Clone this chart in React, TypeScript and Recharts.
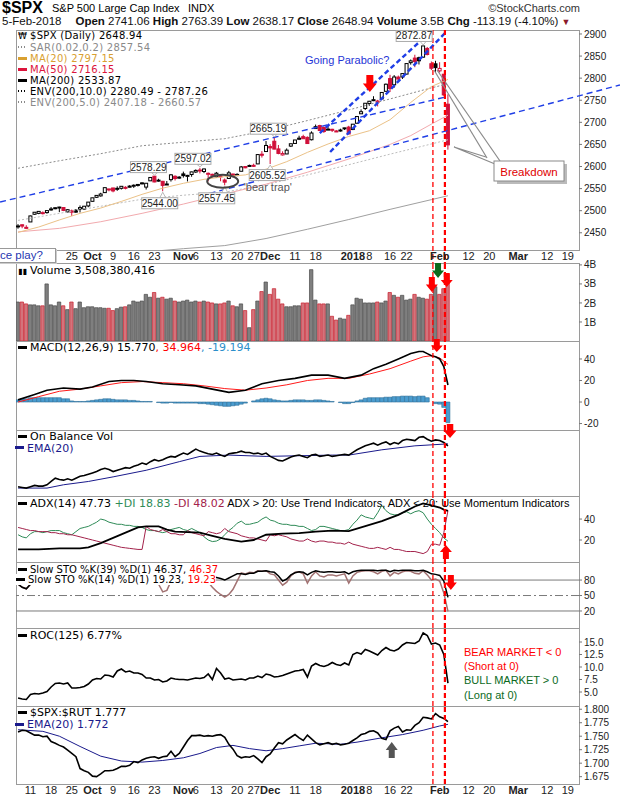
import React from "react";
import { ComposedChart, Bar, Line, XAxis, YAxis, ReferenceLine, ReferenceDot, Cell } from "recharts";

// trading days 6-Sep-2017 .. 5-Feb-2018 (index 0..104)
const open = [2463.8,2468.1,2462.3,2474.5,2491.9,2493.9,2494.6,2495.7,2502.5,2506.3,2506.8,2507.2,2497.3,2499.4,2501.0,2503.3,2503.4,2510.8,
  2521.2,2530.3,2533.5,2540.9,2547.4,2551.4,2550.0,2550.6,2552.9,2555.7,2555.6,2557.2,2562.9,2553.4,2567.6,2578.1,2568.7,2566.5,2560.1,2570.3,2577.8,2576.0,
  2583.2,2579.5,2581.9,2587.5,2592.1,2588.7,2584.0,2580.2,2576.5,2577.8,2569.4,2572.9,2582.9,2579.5,2589.2,2600.0,2600.4,2602.7,2605.9,2627.8,2633.9,
  2645.1,2657.2,2639.8,2626.2,2628.4,2646.2,2652.2,2661.7,2667.6,2665.9,2660.6,2685.9,2692.7,2688.2,2683.0,2684.2,2679.1,2682.1,2686.1,2689.2,
  2683.7,2697.9,2719.3,2731.3,2742.7,2751.2,2745.6,2753.0,2770.2,2799.0,2785.0,2802.4,2802.6,2809.2,2835.1,2845.4,2846.2,2847.5,2867.2,2832.7,2832.4,
  2816.5,2808.9,2741.06];
const high = [2469.6,2468.6,2467.1,2488.9,2496.8,2498.4,2498.4,2500.2,2508.3,2507.8,2508.9,2507.2,2503.5,2502.5,2503.5,2511.8,2510.8,2519.4,
  2529.2,2535.1,2540.5,2552.5,2549.4,2551.8,2555.2,2555.2,2555.3,2557.6,2559.5,2559.7,2564.1,2562.4,2575.4,2578.29,2572.2,2567.4,2567.1,2582.98,2580.0,2578.0,
  2588.4,2581.1,2588.4,2593.4,2597.02,2595.5,2586.5,2583.8,2587.7,2579.7,2572.8,2590.1,2584.0,2584.6,2601.2,2600.9,2604.2,2606.4,2627.7,2634.9,2657.7,
  2650.6,2665.19,2648.7,2634.4,2641.0,2651.7,2660.3,2669.7,2671.9,2668.1,2679.6,2694.97,2694.4,2691.0,2692.6,2685.4,2682.7,2685.6,2687.7,2692.1,
  2695.9,2714.4,2729.3,2743.5,2748.5,2759.1,2750.8,2767.6,2787.9,2807.5,2807.0,2805.8,2810.3,2833.0,2842.2,2852.97,2848.6,2872.87,2870.6,2837.8,2839.3,
  2836.0,2808.9,2763.39];
const low = [2459.2,2460.3,2459.4,2474.5,2490.4,2492.1,2491.4,2493.2,2499.9,2503.2,2496.7,2499.0,2496.1,2488.0,2495.1,2495.9,2502.9,2507.8,
  2520.4,2528.9,2531.8,2540.0,2543.8,2541.6,2544.9,2547.9,2548.3,2552.6,2551.6,2554.7,2559.7,2547.9,2567.6,2564.3,2565.6,2544.0,2559.4,2565.9,2568.3,2572.2,
  2574.9,2566.2,2576.8,2585.7,2584.4,2585.0,2566.3,2575.6,2574.5,2566.6,2557.45,2572.9,2577.6,2578.2,2589.2,2596.1,2600.4,2598.9,2605.4,2620.3,2633.9,
  2605.52,2639.0,2627.7,2624.8,2628.1,2644.1,2651.5,2659.8,2662.9,2652.0,2659.1,2685.9,2680.7,2676.1,2682.4,2678.1,2678.0,2678.9,2682.7,2673.6,
  2682.4,2697.8,2719.1,2727.9,2737.6,2747.9,2736.1,2752.8,2769.6,2768.6,2778.4,2792.6,2798.1,2808.1,2830.6,2824.8,2830.9,2846.2,2851.5,2818.3,2813.0,
  2812.7,2760.0,2638.17];
const close = [2465.5,2465.1,2461.4,2488.1,2496.5,2498.4,2495.6,2500.2,2503.9,2506.7,2508.2,2500.6,2502.2,2496.7,2496.8,2507.0,2510.1,2519.4,
  2529.1,2534.6,2537.7,2552.1,2549.3,2544.7,2550.6,2555.2,2550.9,2553.2,2557.6,2559.4,2561.3,2562.1,2575.2,2565.0,2569.1,2557.2,2560.4,2581.1,2572.8,2575.3,
  2579.4,2579.9,2587.8,2591.1,2590.6,2594.4,2584.6,2582.3,2584.8,2578.9,2564.6,2585.6,2578.9,2582.1,2599.0,2597.1,2602.4,2601.4,2627.0,2626.1,2647.6,
  2642.2,2639.4,2629.6,2629.3,2637.0,2651.5,2660.0,2664.1,2662.9,2652.0,2675.8,2690.2,2681.5,2679.2,2684.6,2683.3,2680.5,2682.6,2687.5,2673.6,
  2695.8,2713.1,2724.0,2743.2,2747.7,2751.3,2748.2,2767.6,2786.2,2776.4,2802.6,2798.0,2810.3,2833.0,2839.1,2837.5,2839.3,2872.9,2853.5,2822.4,2823.8,
  2822.0,2762.1,2648.94];
// volume, billions
const volume = [2.05,2.05,1.95,1.9,1.9,1.85,1.85,3.0,1.9,1.85,2.05,1.85,1.65,2.05,1.7,2.05,1.75,1.8,
  1.8,1.75,1.75,1.72,1.72,1.6,1.7,1.78,1.8,1.9,2.1,2.05,2.1,2.45,2.3,2.55,2.25,2.3,2.2,2.25,2.1,2.05,
  2.1,2.15,2.05,2.1,2.05,2.1,2.05,2.0,1.95,1.95,2.0,2.1,1.85,1.8,1.95,1.6,0.7,1.65,2.1,2.6,3.1,
  2.45,2.75,2.2,1.95,1.8,1.8,1.85,1.85,2.0,2.0,3.75,2.15,1.95,1.95,1.95,1.3,1.1,1.2,1.15,1.35,
  1.9,2.25,2.2,2.0,2.0,2.0,2.05,2.0,2.1,2.55,2.4,2.3,2.4,2.15,2.2,2.45,2.3,2.25,2.2,2.45,2.85,
  2.45,2.75,3.51];

// smooth overlays, [day index, value]
const ma20 = [[0,2451],[5,2463],[10,2479],[15,2494],[20,2506],[25,2521],[30,2537],[35,2551],[40,2562],[45,2571],[50,2577],[55,2581],[60,2594],[65,2611],[70,2632],[75,2651],[80,2668],[85,2681],[90,2706],[95,2745],[100,2781],[104,2797.15]];
const ma50 = [[0,2452],[10,2460],[20,2475],[30,2494],[40,2515],[50,2538],[60,2560],[70,2587],[80,2617],[90,2650],[95,2670],[100,2696],[104,2716.15]];
const ma200 = [[0,2360],[10,2375],[20,2390],[30,2406],[40,2414],[50,2421],[60,2437],[70,2458],[80,2480],[90,2503],[100,2525],[104,2533.87]];
const env10Up = [[0,2596],[10,2613],[20,2629],[30,2647],[40,2655],[50,2663],[60,2681],[70,2704],[80,2728],[90,2753],[100,2778],[104,2787.26]];
const env5Up = [[0,2478],[10,2494],[20,2510],[30,2526],[40,2535],[50,2542],[60,2559],[70,2581],[80,2604],[90,2628],[100,2651],[104,2660.57]];

const macd = [[0,2],[4,7],[7,11],[11,13],[15,12],[18,14],[22,19],[25,20],[28,20],[31,19],[35,17],[39,16],[43,15],[47,12],[51,9],[55,11],[59,17],[63,20],[67,22],[71,25],[75,25],[79,22],[83,25],[86,31],[89,35],[92,40],[95,45],[97,47],[98,47],[99,45],[100,43],[101,42],[102,40],[103,33],[104,15.77]];
const macdSignal = [[0,0],[5,5],[10,10],[15,12],[20,15],[25,18],[30,19],[35,18],[40,17],[45,15],[50,12.5],[55,11],[60,13],[65,16],[70,20],[75,22],[80,22],[85,26],[90,31],[95,38],[98,42],[100,43],[102,41],[104,34.96]];
const macdHist = [2,3,3,4,4,4,4,4,4,4, 4,3,3,1,0.5,0.5,0.5,1,1.5,2, 2.5,3,3,2.5,2,2,2,1.5,1.5,1, 0.5,0.5,0.5,0,-0.5,-1,-1,-0.5,-1,-1,
  -1,-1,-1,-1,-1.5,-1.5,-2,-2.5,-3,-3.5, -4,-4,-3.5,-3,-2,-1,0,1,2,3, 3.5,3,2,1.5,1,1,1.5,2,2,2, 1.5,1.5,2,2,1.5,1,0.5,0,-0.5,-1.5,
  -1.5,-0.5,1,2,3.5,4,4,4,4,4.5, 4.5,5,5,5.5,5.5,5.5,5,5.5,5.5,4, 0,-1.5,-2,-5,-19.19];

// on balance volume (relative units)
const obv = [14,13,12,14,16,15,15,17,22,27, 25,24,26,24,27,30,31,33,35,37, 40,42,40,37,39,41,43,42,45,47, 50,48,52,55,53,55,58,60,59,62,
  65,63,67,71,68,66,64,63,65,62, 60,64,65,66,68,66,66,64,65,63, 65,60,57,54,53,56,59,61,62,60, 58,62,63,60,61,62,60,61,62,63,
  62,66,70,73,76,78,80,77,80,82, 78,81,79,84,86,85,84,89,90,86, 83,85,84,81,76];
const obvEma = [[0,12],[7,12],[11,17],[17,22],[23,29],[31,39],[39,52],[44,60],[51,62],[60,60],[68,61],[76,62],[80,62],[88,70],[96,76],[104,79]];

const adx = [[0,11],[5,11],[10,12],[15,12],[17,13],[20,17],[23,22],[26,27],[29,32],[31,33],[34,33],[36,30],[38,28],[44,27],[47,24],[50,21],[54,18.5],[57,20],[60,25],[64,26],[68,26.5],[72,28],[76,29],[80,28.5],[83,32],[88,38],[92,44],[96,52],[98,55],[100,53],[102,51],[103,49],[104,47.73]];
const plusDI = [25,23,22,26,28,28,27,28,29,29, 29,27,26,25,28,31,32,33,35,37, 40,39,37,36,35,35,34,34,33,33, 32,30,29,29,28,27,28,30,31,32,
  30,29,31,29,27,23,20,18.5,19,21, 25,29,32,36,38,35,35,36,37,40, 42,39,38,36,35,35,34,34,33,33, 31,29,30,33,33,32,31,30,29,29,
  30,35,39,44,42,41,40,46,53,48, 45,44,44,46,47,45,47,48,46,40, 35,31,27,22,18.83];
const minusDI = [32,31,30,29,29,28,28,28,27,27, 26,26,25,25,24,23,22,21,20,19, 18,17,16,15,14,13,12.5,12,11.5,11, 11,33,30,29,28,30,28,26,26,25,
  25,29,27,26,25,24,28,27,26,27, 31,28,27,26,24,23,22,22,21,20, 19,25,24,25,24,23,21,20,19,19, 21,19,18,19,19,18,18,17,17,16,
  18,16,15,14,13,12,12,13,12,11, 13,11,11,10,9,9,9,8,7,9, 16,16,15,27,48.02];

const stoK39 = [72,66,63,72,82,86,86,89,91,92, 93,88,89,85,85,90,92,96,97,98, 98,99,98,96,97,98,97,97,98,98, 98,97,99,95,94,86,87,95,93,94,
  95,94,96,97,96,97,90,87,85,83, 80,84,88,92,92,91,93,93,97,97, 98,96,95,88,78,82,90,94,96,95, 90,95,98,96,95,96,96,95,95,96,
  92,96,98,99,99,99,99,98,99,99, 96,99,98,99,99,99,98,98,99,96, 92,91,89,78,46.37];
const stoK14 = [72,66,63,72,90,92,88,92,94,95, 94,82,84,76,78,88,92,97,98,98, 98,99,96,90,93,96,92,94,96,96, 96,92,98,78,72,57,60,78,82,84,
  88,86,92,94,90,88,76,66,58,52, 47,52,62,78,94,92,95,94,98,97, 98,92,90,80,70,76,88,95,96,92, 74,88,96,88,86,90,90,88,90,92,
  74,88,95,97,98,98,96,92,97,99, 88,95,92,96,98,97,93,92,98,90, 80,82,78,55,19.23];

const roc125 = [3.8,3.6,3.5,4.5,4.7,4.6,4.8,5.1,6.0,6.7, 6.8,6.6,6.8,5.8,5.8,5.9,6.1,6.6,7.4,7.7, 7.6,8.4,8.3,8.0,9.2,9.6,9.0,9.2,8.8,8.8,
  8.5,7.8,7.8,7.4,7.5,7.0,7.2,7.8,7.6,7.5, 7.5,7.4,7.6,7.8,7.7,7.9,8.6,7.5,9.7,8.8, 7.6,7.8,7.4,7.5,7.6,7.4,7.8,7.8,8.2,7.9,
  8.6,8.4,8.0,8.1,8.3,8.6,8.9,9.2,9.3,9.5, 8.0,10.2,10.7,10.3,10.1,10.4,10.9,10.5,10.3,10.8, 10.4,12.5,12.9,12.6,13.5,13.2,12.8,12.4,13.3,13.9,
  13.4,13.2,13.6,14.4,14.9,14.8,14.7,15.2,16.8,16.3, 14.6,14.8,14.4,12.5,6.77];

const spxRut = [1.758,1.761,1.760,1.756,1.752,1.752,1.749,1.750,1.740,1.737, 1.733,1.730,1.724,1.718,1.712,1.690,1.686,1.683,1.676,1.675,
  1.680,1.686,1.686,1.687,1.690,1.694,1.694,1.696,1.703,1.701, 1.706,1.709,1.711,1.712,1.709,1.712,1.713,1.722,1.712,1.718,
  1.730,1.742,1.751,1.751,1.752,1.750,1.751,1.750,1.752,1.753, 1.748,1.735,1.726,1.714,1.710,1.712,1.711,1.714,1.708,1.701,
  1.712,1.717,1.728,1.738,1.736,1.743,1.748,1.753,1.747,1.742, 1.752,1.745,1.738,1.734,1.736,1.738,1.735,1.737,1.734,1.735,
  1.737,1.742,1.747,1.753,1.755,1.759,1.760,1.756,1.746,1.744, 1.760,1.765,1.768,1.758,1.762,1.761,1.770,1.775,1.785,1.784,
  1.782,1.792,1.786,1.783,1.777];
const spxRutEma = [[0,1.762],[6,1.759],[10,1.750],[15,1.731],[20,1.713],[25,1.704],[30,1.702],[35,1.705],[40,1.710],[44,1.718],[48,1.729],[52,1.733],[56,1.727],[60,1.723],[64,1.727],[68,1.732],[72,1.737],[78,1.735],[82,1.739],[88,1.747],[93,1.753],[98,1.761],[102,1.769],[104,1.772]];

// date axis (index of trading day, incl. future days)
const tickIdx = [3,8,13,18,23,28,33,40,43,48,53,57,61,67,72,81,85,90,94,102,109,114,121,128,133];
const tickText = ["11","18","25","Oct","9","16","23","Nov","6","13","20","27","Dec","11","18","2018","8","16","22","Feb","12","20","Mar","12","19"];
const boldTicks = ["Oct","Nov","Dec","2018","Feb","Mar"];
const mainTickIdx = tickIdx.slice(2); // first two hidden under the note box

const rows: any[] = close.map((c, i) => ({
  i, o: open[i], h: high[i], l: low[i], c, hl: [low[i], high[i]], pc: i > 0 ? close[i - 1] : c,
  vol: volume[i], hist: macdHist[i], obv: obv[i], pdi: plusDI[i], mdi: minusDI[i],
  k39: stoK39[i], k14: stoK14[i], roc: roc125[i], ratio: spxRut[i],
}));
const put = (key: string, pts: number[][]) => pts.forEach(([i, v]) => { rows[i][key] = v; });
put("ma20", ma20); put("ma50", ma50); put("ma200", ma200); put("env10", env10Up); put("env5", env5Up);
put("macd", macd); put("sig", macdSignal); put("obvEma", obvEma); put("adx", adx); put("ratioEma", spxRutEma);

const FL = '"DejaVu Sans", Verdana, sans-serif';
const FA = '"Liberation Sans", Arial, sans-serif';
const RED = "#D0103A";
const XD: [number, number] = [-0.5, 135.7];
const RL = [{ x: 100.36, w: 1.3 }, { x: 103.26, w: 2.2 }];
const PAD = 6;

const DateTick = (p: any) => {
  const t = tickText[tickIdx.indexOf(p.payload.value)];
  return (
    <text x={p.x} y={p.y} dy={10} textAnchor="middle" fontSize={11} fontFamily={FA}
      fontWeight={boldTicks.includes(t) ? 700 : 400} fill="#222">{t}</text>
  );
};

const xAxis = (show: boolean, ticks = tickIdx) => (
  <XAxis dataKey="i" type="number" domain={XD} allowDataOverflow ticks={ticks} interval={0}
    hide={!show} height={show ? 14 : 0} axisLine={false} tickLine={false} tickSize={0} tickMargin={0} tick={<DateTick />} />
);

const yAxis = (domain: [number, number], ticks: number[], fmt?: (v: number) => string) => (
  <YAxis orientation="right" width={41} domain={domain} allowDataOverflow ticks={ticks} interval={0}
    axisLine={false} tickSize={3} tickLine={{ stroke: "#777" }} tickFormatter={fmt}
    tick={{ fontSize: 10, fill: "#222", fontFamily: FA }} />
);

const redLines = () => RL.map((r, k) => (
  <ReferenceLine key={"rl" + k} x={r.x} stroke="#ff0000" strokeWidth={r.w} strokeDasharray="5 3" ifOverflow="visible" />
));

const Candle = (p: any) => {
  const { x, y, width, height, payload } = p;
  if (!payload) return null;
  const top = Math.min(y, y + height);
  const hh = Math.abs(height);
  const k = payload.h - payload.l ? hh / (payload.h - payload.l) : 0;
  const yo = top + (payload.h - payload.o) * k;
  const yc = top + (payload.h - payload.c) * k;
  const col = payload.c < payload.pc ? RED : "#000";
  const cx = x + width / 2;
  const up = payload.c >= payload.o;
  return (
    <g>
      <line x1={cx} x2={cx} y1={top} y2={top + hh} stroke={col} strokeWidth={1} />
      <rect x={x + 0.5} y={Math.min(yo, yc)} width={width - 1} height={Math.max(1, Math.abs(yo - yc))}
        fill={up ? "#fff" : col} stroke={col} strokeWidth={1} />
    </g>
  );
};

// block arrow, (cx, cy) is the tip
const Arrow = ({ cx, cy, dir = "down", color = "#f00", w = 13, h = 16 }: any) => {
  if (cx == null) return null;
  const s = dir === "down" ? -1 : 1; // body goes up (negative y) for a down arrow
  const hw = w / 2, sw = w / 4, hh = h * 0.5;
  const pts = [[cx, cy], [cx - hw, cy - s * -hh], [cx - sw, cy - s * -hh], [cx - sw, cy - s * -h], [cx + sw, cy - s * -h], [cx + sw, cy - s * -hh], [cx + hw, cy - s * -hh]];
  return <polygon points={pts.map((q) => q.join(",")).join(" ")} fill={color} />;
};

const PriceTag = ({ cx, cy, text, dx, dy }: any) => {
  if (cx == null) return null;
  const bx = cx + dx, by = cy + dy, w = 36, hgt = 11;
  const edge = dy < 0 ? by + hgt / 2 : by - hgt / 2;
  return (
    <g>
      <polygon points={`${cx - 3},${edge} ${cx},${cy + (dy < 0 ? -1 : 1)} ${cx + 3},${edge}`} fill="#fff" stroke="#aaa" strokeWidth={0.8} />
      <rect x={bx - w / 2} y={by - hgt / 2} width={w} height={hgt} fill="#fff" stroke="#aaa" strokeWidth={1} />
      <text x={bx} y={by + 3.5} textAnchor="middle" fontSize={10} fontFamily={FA} fill="#222">{text}</text>
    </g>
  );
};

const tags = [
  { i: 33, p: 2578.29, t: "2578.29", dx: -6, dy: -9 },
  { i: 35, p: 2544.0, t: "2544.00", dx: -3, dy: 12 },
  { i: 44, p: 2597.02, t: "2597.02", dx: -7, dy: -9 },
  { i: 50, p: 2557.45, t: "2557.45", dx: -8, dy: 13 },
  { i: 61, p: 2605.52, t: "2605.52", dx: -3, dy: 11 },
  { i: 62, p: 2665.19, t: "2665.19", dx: -6, dy: -9 },
  { i: 98, p: 2872.87, t: "2872.87", dx: -9, dy: -10 },
];

const blueLines = [
  { a: [-4.35, 2519.7], b: [103.3, 2757], w: 1.4, d: "6 4" },
  { a: [44.0, 2533.2], b: [145.6, 2784.5], w: 1.4, d: "6 4" },
  { a: [73.0, 2675.8], b: [98.4, 2893.2], w: 2.4, d: "5 3" },
  { a: [75.5, 2632.8], b: [103.3, 2902.2], w: 2.4, d: "5 3" },
];

const Dash = ({ c }: any) => <span style={{ display: "inline-block", width: 9, height: 3, background: c, verticalAlign: "middle", marginRight: 3, marginTop: -2 }} />;
const Dots = ({ c }: any) => <span style={{ display: "inline-block", width: 9, height: 2, marginRight: 3, verticalAlign: "middle", marginTop: -2, backgroundImage: `linear-gradient(90deg, ${c} 50%, transparent 50%)`, backgroundSize: "3px 2px" }} />;

const box = (top: number, h: number) => (
  <div key={"bx" + top} style={{ position: "absolute", left: 16, top, width: 564, height: h + 1, border: "1px solid #9a9a9a", boxSizing: "border-box" }} />
);

// plot area starts at `top`, is `h` tall; `axisH` px of date labels below it
const panel = (top: number, h: number, axisH: number, children: React.ReactNode) => (
  <div style={{ position: "absolute", left: 0, top: top - PAD }}>
    <ComposedChart width={620} height={h + axisH + PAD * 2} data={rows} margin={{ top: PAD, right: 0, bottom: PAD, left: 16 }}>
      {children}
    </ComposedChart>
  </div>
);

const T = (p: any) => <span style={{ position: "absolute", whiteSpace: "nowrap", ...p.s }}>{p.children}</span>;

export default function App() {
  return (
    <div style={{ position: "absolute", left: 0, top: 0, width: 620, height: 800, background: "#fff", overflow: "hidden" }}>
      {[box(30, 220), box(263, 78), box(341, 89), box(430, 66), box(496, 66), box(562, 66), box(628, 78), box(706, 78)]}

      {panel(30, 220, 14, <>
        {xAxis(true, mainTickIdx)}
        {yAxis([2411, 2909], [2450, 2500, 2550, 2600, 2650, 2700, 2750, 2800, 2850, 2900])}
        <Line dataKey="env10" stroke="#8c8c8c" strokeDasharray="2 2" strokeWidth={1} dot={false} activeDot={false} connectNulls isAnimationActive={false} />
        <Line dataKey="env5" stroke="#bdbdbd" strokeDasharray="2 2" strokeWidth={1} dot={false} activeDot={false} connectNulls isAnimationActive={false} />
        <Line dataKey="ma200" stroke="#a0a0a0" strokeWidth={1} dot={false} activeDot={false} connectNulls isAnimationActive={false} />
        <Line dataKey="ma50" stroke="#F2AAAE" strokeWidth={1} dot={false} activeDot={false} connectNulls isAnimationActive={false} />
        <Line dataKey="ma20" stroke="#EBC288" strokeWidth={1} dot={false} activeDot={false} connectNulls isAnimationActive={false} />
        <Bar dataKey="hl" barSize={4} shape={(p: any) => <Candle {...p} />} isAnimationActive={false} />
        {blueLines.map((l, k) => (
          <ReferenceLine key={"bl" + k} segment={[{ x: l.a[0], y: l.a[1] }, { x: l.b[0], y: l.b[1] }]} stroke="#1f3ee6" strokeWidth={l.w} strokeDasharray={l.d} ifOverflow="visible" />
        ))}
        {RL.map((r, k) => (
          <ReferenceLine key={"mr" + k} segment={[{ x: r.x, y: 2909 }, { x: r.x, y: 2380 }]} stroke="#ff0000" strokeWidth={r.w} strokeDasharray="5 3" ifOverflow="visible" />
        ))}
        {tags.map((g, k) => (
          <ReferenceDot key={"tg" + k} x={g.i} y={g.p} ifOverflow="visible" shape={(p: any) => <PriceTag {...p} text={g.t} dx={g.dx} dy={g.dy} />} />
        ))}
        <ReferenceDot x={49.5} y={2566.5} ifOverflow="visible" shape={(p: any) => p.cx == null ? null : (
          <g>
            <ellipse cx={p.cx} cy={p.cy} rx={15.5} ry={6.5} fill="none" stroke="#444" strokeWidth={2} />
            <text x={p.cx + 21} y={p.cy + 10} fontSize={11} fontFamily={FA} fill="#555">'bear trap'</text>
          </g>
        )} />
        <ReferenceDot x={85.1} y={2768.7} ifOverflow="visible" shape={(p: any) => <Arrow {...p} dir="down" w={14} h={17} color="#f00" />} />
      </>)}

      {panel(263, 78, 0, <>
        {xAxis(false)}
        {yAxis([0, 4.1], [1, 2, 3, 4], (v) => v + "B")}
        <Bar dataKey="vol" barSize={3.4} isAnimationActive={false}>
          {rows.map((r, k) => (
            <Cell key={k} fill={r.c < r.pc ? "#D4737B" : "#7f7f7f"} stroke={r.c < r.pc ? "#C8202E" : "#4a4a4a"} strokeWidth={0.7} />
          ))}
        </Bar>
        {redLines()}
        <ReferenceDot x={100.1} y={2.58} ifOverflow="visible" shape={(p: any) => <Arrow {...p} dir="down" w={12} h={15} color="#f00" />} />
        <ReferenceDot x={101.6} y={3.31} ifOverflow="visible" shape={(p: any) => <Arrow {...p} dir="down" w={12} h={15} color="#0b6a1d" />} />
        <ReferenceDot x={103.7} y={2.84} ifOverflow="visible" shape={(p: any) => <Arrow {...p} dir="down" w={12} h={14} color="#f00" />} />
      </>)}

      {panel(341, 89, 0, <>
        {xAxis(false)}
        {yAxis([-26, 56.7], [-20, 0, 20, 40])}
        <Bar dataKey="hist" barSize={4} fill="#4A9CCF" stroke="#2D6E98" strokeWidth={0.6} isAnimationActive={false} />
        <Line dataKey="sig" stroke="#ff1a1a" strokeWidth={1} dot={false} activeDot={false} connectNulls isAnimationActive={false} />
        <Line dataKey="macd" stroke="#000" strokeWidth={1.6} dot={false} activeDot={false} connectNulls isAnimationActive={false} />
        {redLines()}
        <ReferenceDot x={101.3} y={46.5} ifOverflow="visible" shape={(p: any) => <Arrow {...p} dir="down" w={12} h={13} color="#f00" />} />
      </>)}

      {panel(430, 66, 0, <>
        {xAxis(false)}
        {yAxis([0, 100], [])}
        <Line dataKey="obvEma" stroke="#1a1a8c" strokeWidth={1} dot={false} activeDot={false} connectNulls isAnimationActive={false} />
        <Line dataKey="obv" stroke="#000" strokeWidth={1.6} dot={false} activeDot={false} isAnimationActive={false} />
        {redLines()}
        <ReferenceDot x={104.5} y={87.9} ifOverflow="visible" shape={(p: any) => <Arrow {...p} dir="down" w={13} h={15} color="#f00" />} />
      </>)}

      {panel(496, 66, 0, <>
        {xAxis(false)}
        {yAxis([-1, 62], [20, 40])}
        <Line dataKey="pdi" stroke="#2E8B57" strokeWidth={1} dot={false} activeDot={false} isAnimationActive={false} />
        <Line dataKey="mdi" stroke="#A3224B" strokeWidth={1} dot={false} activeDot={false} isAnimationActive={false} />
        <Line dataKey="adx" stroke="#000" strokeWidth={1.8} dot={false} activeDot={false} connectNulls isAnimationActive={false} />
        {redLines()}
        <ReferenceDot x={103.5} y={15.2} ifOverflow="visible" shape={(p: any) => <Arrow {...p} dir="up" w={12} h={14} color="#f00" />} />
      </>)}

      {panel(562, 66, 0, <>
        {xAxis(false)}
        {yAxis([-13, 115], [20, 50, 80])}
        <ReferenceLine y={80} stroke="#7a7a7a" strokeWidth={1} />
        <ReferenceLine y={50} stroke="#7a7a7a" strokeWidth={1} strokeDasharray="8 3 2 3" />
        <ReferenceLine y={20} stroke="#7a7a7a" strokeWidth={1} />
        <Line dataKey="k14" stroke="#A27272" strokeWidth={1.5} dot={false} activeDot={false} isAnimationActive={false} />
        <Line dataKey="k39" stroke="#000" strokeWidth={1.5} dot={false} activeDot={false} isAnimationActive={false} />
        {redLines()}
        <ReferenceDot x={104.7} y={60.7} ifOverflow="visible" shape={(p: any) => <Arrow {...p} dir="down" w={12} h={15} color="#f00" />} />
      </>)}

      {panel(628, 78, 0, <>
        {xAxis(false)}
        {yAxis([2.2, 17.8], [5, 7.5, 10, 12.5, 15], (v) => v.toFixed(1))}
        <Line dataKey="roc" stroke="#000" strokeWidth={1.6} dot={false} activeDot={false} isAnimationActive={false} />
        {redLines()}
      </>)}

      {panel(706, 78, 14, <>
        {xAxis(true)}
        {yAxis([1.6614, 1.806], [1.675, 1.7, 1.725, 1.75, 1.775, 1.8], (v) => v.toFixed(3))}
        <Line dataKey="ratioEma" stroke="#1a1a8c" strokeWidth={1} dot={false} activeDot={false} connectNulls isAnimationActive={false} />
        <Line dataKey="ratio" stroke="#000" strokeWidth={1.6} dot={false} activeDot={false} isAnimationActive={false} />
        {redLines()}
        <ReferenceDot x={90.4} y={1.7392} ifOverflow="visible" shape={(p: any) => <Arrow {...p} dir="up" w={12} h={16} color="#555" />} />
      </>)}

      {/* header */}
      <T s={{ left: 2, top: -1, font: `bold 16px ${FA}` }}>$SPX</T>
      <T s={{ left: 52, top: 2, font: `11px ${FA}` }}>S&amp;P 500 Large Cap Index</T>
      <T s={{ left: 188, top: 2, font: `11px ${FA}` }}>INDX</T>
      <T s={{ right: 40, top: 2, font: `11px ${FA}`, color: "#333" }}>©StockCharts.com</T>
      <div style={{ position: "absolute", left: 2, top: 15, font: `11.5px ${FA}`, whiteSpace: "nowrap", color: "#111" }}>
        <span>5-Feb-2018</span>
        <b style={{ marginLeft: 14 }}>Open</b> 2741.06 <b>High</b> 2763.39 <b>Low</b> 2638.17 <b>Close</b> 2648.94 <b>Volume</b> 3.5B <b>Chg</b> -113.19 (-4.10%) <span style={{ color: "#8B1A2B", fontSize: 9 }}>▼</span>
      </div>

      {/* main legend */}
      <div style={{ position: "absolute", left: 18, top: 30, font: `10px ${FL}`, letterSpacing: "0.3px", lineHeight: "11px", whiteSpace: "nowrap" }}>
        <div><span style={{ display: "inline-block", width: 9, marginRight: 3, fontSize: 9 }}>₩</span>$SPX (Daily) 2648.94</div>
        <div style={{ color: "#8a8a8a" }}><Dots c="#8a8a8a" />SAR(0.02,0.2) 2857.54</div>
        <div style={{ color: "#D9A030" }}><Dash c="#D9A030" />MA(20) 2797.15</div>
        <div style={{ color: "#DC143C" }}><Dash c="#DC143C" />MA(50) 2716.15</div>
        <div><Dash c="#000" />MA(200) 2533.87</div>
        <div><Dots c="#000" />ENV(200,10.0) 2280.49 - 2787.26</div>
        <div style={{ color: "#8a8a8a" }}><Dots c="#8a8a8a" />ENV(200,5.0) 2407.18 - 2660.57</div>
      </div>
      <T s={{ left: 305, top: 54, font: `11px ${FA}`, color: "#1F35D6" }}>Going Parabolic?</T>

      <div style={{ position: "absolute", left: -6, top: 248, width: 62, height: 15, border: "1px solid #999", background: "#fff", boxSizing: "border-box", boxShadow: "1px 1px 0 #ccc" }} />
      <T s={{ left: 0, top: 249, font: `11.5px ${FA}`, color: "#1F35B0" }}>ce play?</T>

      <svg style={{ position: "absolute", left: 0, top: 0 }} width={620} height={800}>
        <polyline points="434,70 487,158" stroke="#8a8a8a" strokeWidth={1.2} fill="none" />
        <polyline points="437,70 500,161" stroke="#8a8a8a" strokeWidth={1.2} fill="none" />
        <polyline points="486,157 454,147 495,164" stroke="#8a8a8a" strokeWidth={1.2} fill="none" />
        <rect x={497} y={164} width={70} height={20} fill="#bbb" />
        <rect x={494} y={161} width={70} height={20} fill="#fff" stroke="#8a8a8a" />
        <text x={529} y={175.5} textAnchor="middle" fontSize={11.5} fontFamily={FA} fill="#e00000">Breakdown</text>
      </svg>

      {/* volume legend */}
      <div style={{ position: "absolute", left: 18, top: 265, font: `11px ${FL}`, whiteSpace: "nowrap", lineHeight: "12px" }}>
        <span style={{ display: "inline-block", width: 9, marginRight: 3, fontSize: 8 }}>▮▮</span>Volume 3,508,380,416
      </div>
      {/* macd legend */}
      <div style={{ position: "absolute", left: 18, top: 342, font: `11px ${FL}`, whiteSpace: "nowrap", lineHeight: "12px" }}>
        <Dash c="#000" />MACD(12,26,9) 15.770<span style={{ color: "#f00" }}>, 34.964</span><span style={{ color: "#2B8FCB" }}>, -19.194</span>
      </div>
      {/* obv legend */}
      <div style={{ position: "absolute", left: 18, top: 431, font: `11px ${FL}`, whiteSpace: "nowrap", lineHeight: "11.5px" }}>
        <div><Dash c="#000" />On Balance Vol</div>
        <div style={{ color: "#1a1a8c", marginLeft: -3 }}><Dash c="#1a1a8c" />EMA(20)</div>
      </div>
      {/* adx legend */}
      <div style={{ position: "absolute", left: 18, top: 497, font: `11px ${FL}`, whiteSpace: "nowrap", lineHeight: "12px" }}>
        <Dash c="#000" />ADX(14) 47.73 <span style={{ color: "#2E8B57" }}>+DI 18.83</span> <span style={{ color: "#A3224B" }}>-DI 48.02</span>
        <span style={{ font: `11px ${FA}` }}> ADX &gt; 20: Use Trend Indicators, ADX &lt; 20: Use Momentum Indicators</span>
      </div>
      {/* sto legend */}
      <div style={{ position: "absolute", left: 18, top: 565, font: `10px ${FL}`, whiteSpace: "nowrap", lineHeight: "10px" }}>
        <div><span style={{ background: "#fff" }}><Dash c="#000" />Slow STO %K(39) %D(1) 46.37, <span style={{ color: "#f00" }}>46.37</span></span></div>
        <div style={{ marginLeft: -2 }}><span style={{ background: "#fff" }}><Dash c="#000" />Slow STO %K(14) %D(1) 19.23, <span style={{ color: "#f00" }}>19.23</span></span></div>
      </div>
      {/* roc legend */}
      <div style={{ position: "absolute", left: 18, top: 630, font: `11px ${FL}`, whiteSpace: "nowrap", lineHeight: "12px" }}>
        <Dash c="#000" />ROC(125) 6.77%
      </div>
      <div style={{ position: "absolute", left: 464, top: 645, font: `11px ${FA}`, lineHeight: "14.2px", whiteSpace: "nowrap" }}>
        <div style={{ color: "#f00" }}>BEAR MARKET &lt; 0</div>
        <div style={{ color: "#f00" }}>(Short at 0)</div>
        <div style={{ color: "#0b6a1d" }}>BULL MARKET &gt; 0</div>
        <div style={{ color: "#0b6a1d" }}>(Long at 0)</div>
      </div>
      {/* ratio legend */}
      <div style={{ position: "absolute", left: 18, top: 707, font: `11px ${FL}`, whiteSpace: "nowrap", lineHeight: "12px" }}>
        <div><Dash c="#000" />$SPX:$RUT 1.777</div>
        <div style={{ color: "#1a1a8c", marginLeft: -3 }}><Dash c="#1a1a8c" />EMA(20) 1.772</div>
      </div>
    </div>
  );
}
